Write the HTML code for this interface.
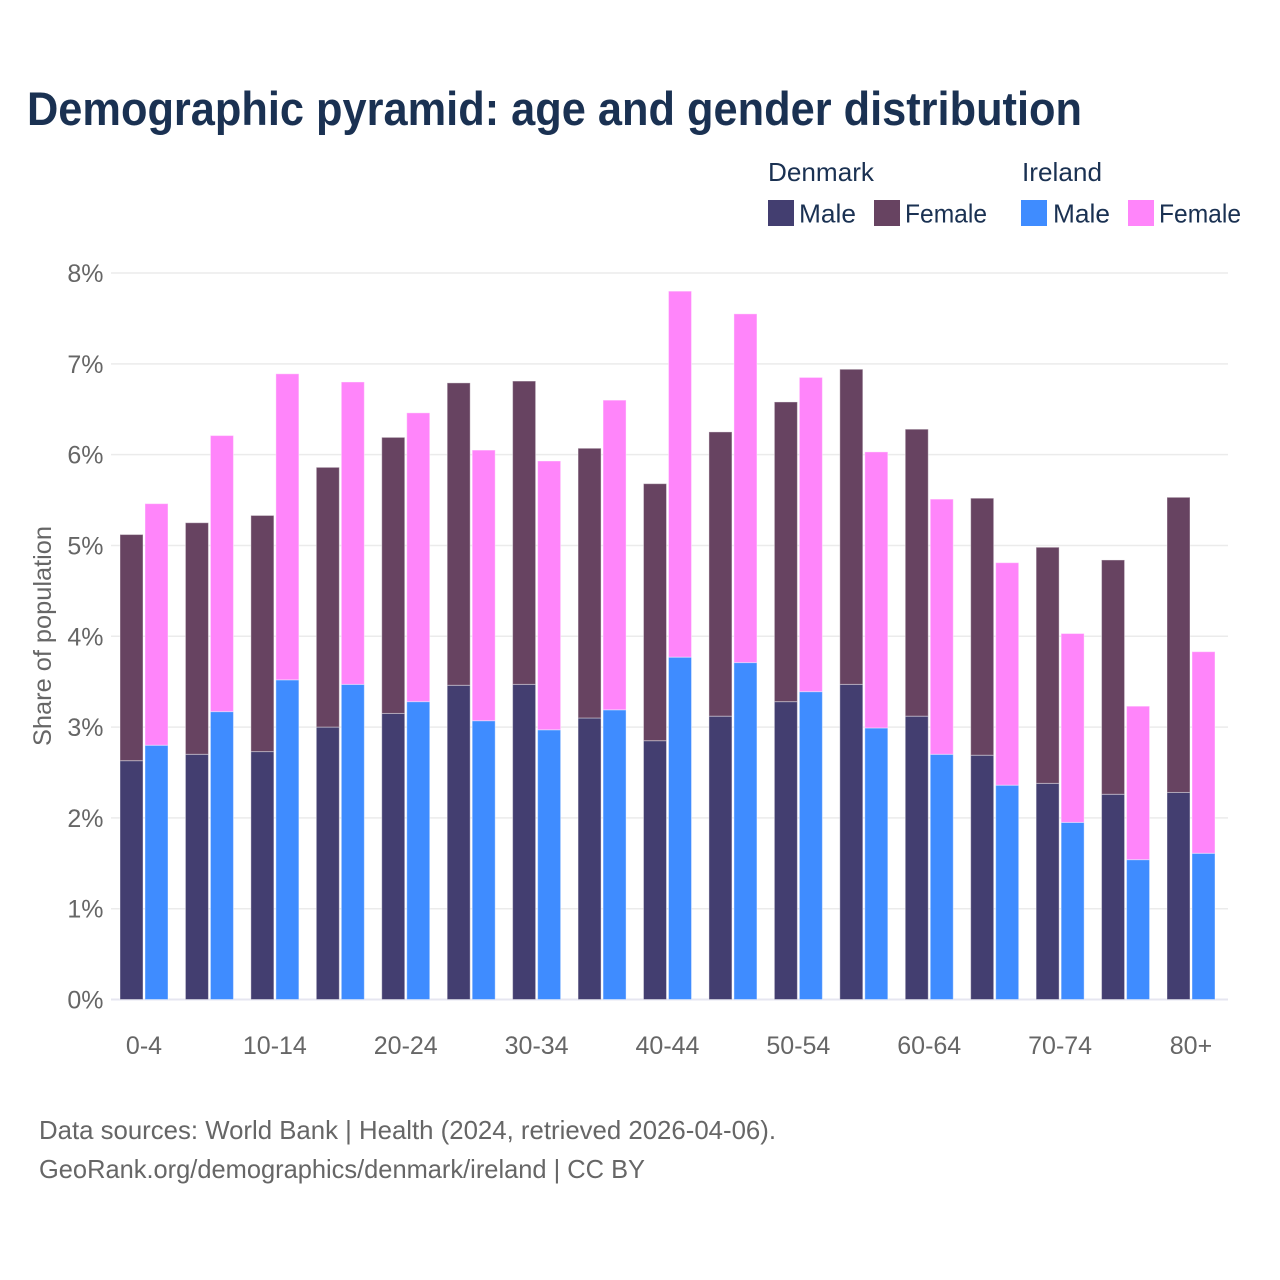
<!DOCTYPE html>
<html lang="en">
<head>
<meta charset="utf-8">
<title>Demographic pyramid: age and gender distribution</title>
<style>
html,body{margin:0;padding:0;background:#fff;}
svg{display:block;font-family:"Liberation Sans",Arial,sans-serif;}
</style>
</head>
<body>
<svg id="chart" xmlns="http://www.w3.org/2000/svg" width="1280" height="1280" viewBox="0 0 1280 1280">
  <rect x="0" y="0" width="1280" height="1280" fill="#ffffff"/>
  <text x="27" y="125" font-size="47" font-weight="700" fill="#1a3152" textLength="1055" lengthAdjust="spacingAndGlyphs">Demographic pyramid: age and gender distribution</text>

  <g font-size="26" fill="#1a3152">
    <text x="768" y="181" textLength="106" lengthAdjust="spacingAndGlyphs">Denmark</text>
    <text x="1022" y="181" textLength="80" lengthAdjust="spacingAndGlyphs">Ireland</text>
    <rect x="768" y="200" width="26" height="26" fill="#433e70"/>
    <text x="799" y="222.5" textLength="57" lengthAdjust="spacingAndGlyphs">Male</text>
    <rect x="874" y="200" width="26" height="26" fill="#674361"/>
    <text x="905" y="222.5" textLength="82" lengthAdjust="spacingAndGlyphs">Female</text>
    <rect x="1021" y="200" width="26" height="26" fill="#3f8cff"/>
    <text x="1053" y="222.5" textLength="57" lengthAdjust="spacingAndGlyphs">Male</text>
    <rect x="1128" y="200" width="26" height="26" fill="#ff85fa"/>
    <text x="1159" y="222.5" textLength="82" lengthAdjust="spacingAndGlyphs">Female</text>
  </g>

  <g id="grid"></g>
  <g id="bars"></g>
  <g id="yticks"></g>
  <g id="xticks"></g>

  <text transform="translate(51,636) rotate(-90)" text-anchor="middle" font-size="25" fill="#666666" textLength="220" lengthAdjust="spacingAndGlyphs">Share of population</text>

  <text x="39" y="1139" font-size="26" fill="#666666" textLength="737" lengthAdjust="spacingAndGlyphs">Data sources: World Bank | Health (2024, retrieved 2026-04-06).</text>
  <text x="39" y="1178" font-size="26" fill="#666666" textLength="606" lengthAdjust="spacingAndGlyphs">GeoRank.org/demographics/denmark/ireland | CC BY</text>
</svg>
<script>
const ageGroups = ["0-4","5-9","10-14","15-19","20-24","25-29","30-34","35-39","40-44","45-49","50-54","55-59","60-64","65-69","70-74","75-79","80+"];
const shownAgeLabels = ["0-4","10-14","20-24","30-34","40-44","50-54","60-64","70-74","80+"];
const yTickValues = [0,1,2,3,4,5,6,7,8];
const denmarkMale = [2.63,2.70,2.73,3.00,3.15,3.46,3.47,3.10,2.85,3.12,3.28,3.47,3.12,2.69,2.38,2.26,2.28];
const denmarkFemale = [2.49,2.55,2.60,2.86,3.04,3.33,3.34,2.97,2.83,3.13,3.30,3.47,3.16,2.83,2.60,2.58,3.25];
const irelandMale = [2.80,3.17,3.52,3.47,3.28,3.07,2.97,3.19,3.77,3.71,3.39,2.99,2.70,2.36,1.95,1.54,1.61];
const irelandFemale = [2.66,3.04,3.37,3.33,3.18,2.98,2.96,3.41,4.03,3.84,3.46,3.04,2.81,2.45,2.08,1.69,2.22];

const SVG_NS = "http://www.w3.org/2000/svg";
const plotLeft = 111, plotRight = 1228, plotBase = 999.5, plotTop = 273, yMax = 8;
const firstCenter = 144, lastCenter = 1191;
const barWidth = 23, barOffset = 12.5;

function yScale(v) { return plotBase - (v / yMax) * (plotBase - plotTop); }
function xScale(i) { return firstCenter + i * (lastCenter - firstCenter) / (ageGroups.length - 1); }

function make(tag, attrs, parent) {
  const el = document.createElementNS(SVG_NS, tag);
  for (const k in attrs) el.setAttribute(k, attrs[k]);
  parent.appendChild(el);
  return el;
}

const grid = document.getElementById("grid");
const yticks = document.getElementById("yticks");
const xticks = document.getElementById("xticks");
const bars = document.getElementById("bars");

yTickValues.forEach(function (t) {
  const line = make("line", {x1: plotLeft, x2: plotRight, y1: yScale(t), y2: yScale(t), stroke: t === 0 ? "#e6e6f0" : "#ebebeb", "stroke-width": t === 0 ? 2 : 1.5}, grid);
  
  
  const label = make("text", {x: 103.5, y: yScale(t) + 9, "text-anchor": "end", "font-size": 25, fill: "#666666"}, yticks);
  label.textContent = t + "%";
  
  
});

ageGroups.forEach(function (age, i) {
  if (shownAgeLabels.indexOf(age) >= 0) {
    const label = make("text", {x: xScale(i), y: 1054, "text-anchor": "middle", "font-size": 25, fill: "#666666"}, xticks);
    label.textContent = age;
    
    
  }
  const cx = xScale(i);
  const segs = [
    [cx - barOffset, 0, denmarkMale[i], "#433e70", "bar-denmark-male"],
    [cx - barOffset, denmarkMale[i], denmarkMale[i] + denmarkFemale[i], "#674361", "bar-denmark-female"],
    [cx + barOffset, 0, irelandMale[i], "#3f8cff", "bar-ireland-male"],
    [cx + barOffset, irelandMale[i], irelandMale[i] + irelandFemale[i], "#ff85fa", "bar-ireland-female"]
  ];
  segs.forEach(function (s) {
    const r = make("rect", {x: s[0] - barWidth / 2, y: yScale(s[2]), width: barWidth, height: yScale(s[1]) - yScale(s[2]), fill: s[3], stroke: "#ffffff", "stroke-opacity": 0.4, "stroke-width": 1}, bars);
    
    
  });
});
</script>
</body>
</html>
